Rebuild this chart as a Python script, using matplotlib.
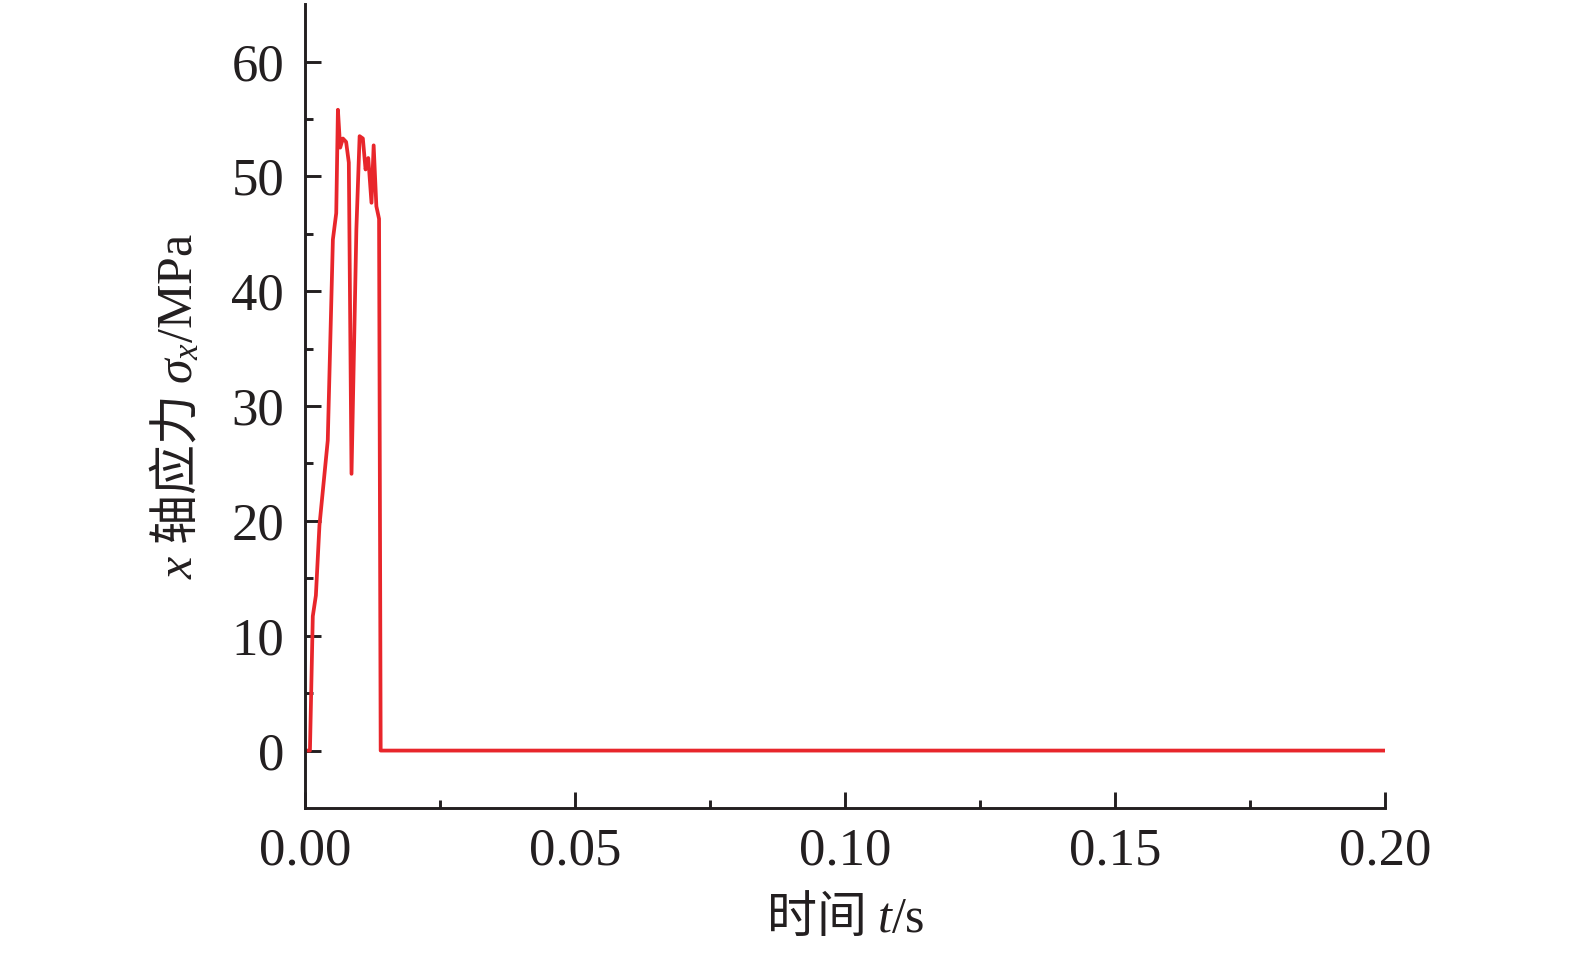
import numpy as np
import matplotlib.pyplot as plt
from matplotlib.ticker import MultipleLocator, FormatStrFormatter

plt.rcParams['font.family'] = ['Liberation Serif', 'Noto Sans CJK SC', 'DejaVu Sans']
plt.rcParams['mathtext.fontset'] = 'custom'
plt.rcParams['mathtext.rm'] = 'Liberation Serif'
plt.rcParams['mathtext.it'] = 'Liberation Serif:italic'

# time (s) and x-axis stress (MPa)
t = [0.0, 0.0009, 0.00143, 0.0020, 0.00266, 0.0042, 0.00515, 0.00577, 0.00608,
     0.0065, 0.0070, 0.0076, 0.0081, 0.0086, 0.0095, 0.0101, 0.0107, 0.0112,
     0.0117, 0.0123, 0.0127, 0.0132, 0.0137, 0.0140, 0.2]
sigma = [0.0, 0.0, 11.7, 13.5, 19.6, 27.0, 44.5, 46.8, 55.8,
         52.5, 53.3, 53.0, 51.2, 24.1, 45.4, 53.5, 53.3, 50.6,
         51.6, 47.7, 52.7, 47.4, 46.3, 0.0, 0.0]

fig = plt.figure(figsize=(15.75, 9.57), dpi=100)
ax = fig.add_axes([0.1937, 0.1557, 0.6857, 0.840])

ax.plot(t, sigma, color='#e8262b', lw=2.7)

ax.set_xlim(0, 0.2)
ax.set_ylim(-5, 65)
ax.xaxis.set_major_locator(MultipleLocator(0.05))
ax.xaxis.set_minor_locator(MultipleLocator(0.025))
ax.xaxis.set_major_formatter(FormatStrFormatter('%.2f'))
ax.set_yticks([0, 10, 20, 30, 40, 50, 60])
ax.set_yticks([5, 15, 25, 35, 45, 55], minor=True)

for s in ['top', 'right']:
    ax.spines[s].set_visible(False)
for s in ['left', 'bottom']:
    ax.spines[s].set_linewidth(2.1)
    ax.spines[s].set_color('#231f20')

ax.tick_params(which='both', direction='in', width=2.1, color='#231f20',
               labelsize=38, labelcolor='#231f20')
ax.tick_params(which='major', length=11.5)
ax.tick_params(which='minor', length=6)
ax.tick_params(axis='y', which='major', pad=15)
ax.tick_params(axis='x', which='major', pad=14)

ax.set_xlabel(r'时间 $t\mathrm{/s}$', fontsize=36, family='Noto Sans CJK SC',
              color='#231f20', labelpad=12)
ax.set_ylabel(r'$x$ 轴应力 $\sigma_x\mathrm{/MPa}$', fontsize=36,
              family='Noto Sans CJK SC', color='#231f20', labelpad=20)

fig.savefig('out.png', dpi=100)
